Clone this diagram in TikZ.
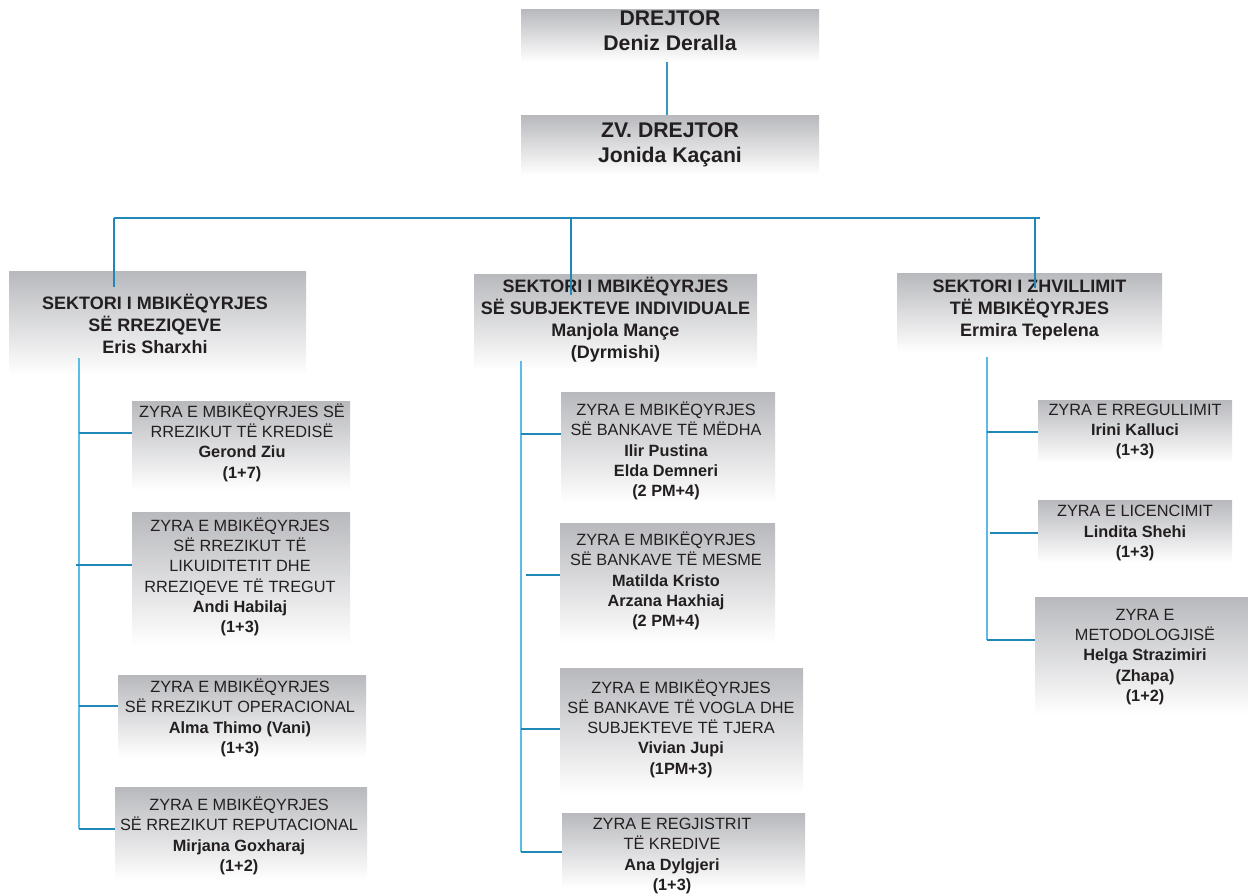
\documentclass[tikz,border=0pt]{standalone}
\usepackage{fontspec}
\setmainfont{Liberation Sans}
\usetikzlibrary{fit}
\definecolor{boxtop}{RGB}{184,185,189}
\definecolor{boxmid}{RGB}{210,211,214}
\definecolor{lnlight}{RGB}{92,188,230}
\definecolor{lndark}{RGB}{32,136,182}
\definecolor{txtc}{RGB}{35,31,32}
\tikzset{
  orgbox/.style={rectangle, inner sep=0pt, draw=none, top color=boxtop, middle color=boxmid, bottom color=white},
  toptxt/.style={font=\fontsize{21.2}{25}\selectfont\bfseries, align=center, text=txtc, inner sep=0pt},
  sectxt/.style={font=\fontsize{18}{22}\selectfont\bfseries, align=center, text=txtc, inner sep=0pt},
  subtxt/.style={font=\fontsize{16.3}{20.3}\selectfont, align=center, text=txtc, inner sep=0pt},
  spine/.style={draw=lnlight, line width=1.6pt},
  branch/.style={draw=lndark, line width=1.3pt},
}
\begin{document}
\begin{tikzpicture}[x=1pt,y=-1pt]
\useasboundingbox (0,0) rectangle (1248,895);
\fill[white] (0,0) rectangle (1248,895);
% boxes
\node[orgbox, fit={(521,9) (819,62)}] (dir) {};
\node[toptxt] (dirt) at (670,31) {DREJTOR\\Deniz Deralla};
\node[orgbox, fit={(521,115) (819,175)}] (zv) {};
\node[toptxt] (zvt) at (670,145) {ZV. DREJTOR\\Jonida Kaçani};
\node[orgbox, fit={(9,271) (306,375)}] (s1) {};
\node[sectxt] (s1t) at (155,323.5) {SEKTORI I MBIKËQYRJES\\SË RREZIQEVE\\Eris Sharxhi};
\node[orgbox, fit={(474,274) (757,370)}] (s2) {};
\node[sectxt] (s2t) at (615.5,320) {SEKTORI I MBIKËQYRJES\\SË SUBJEKTEVE INDIVIDUALE\\Manjola Mançe\\(Dyrmishi)};
\node[orgbox, fit={(897,273) (1162,352)}] (s3) {};
\node[sectxt] (s3t) at (1029.5,310) {SEKTORI I ZHVILLIMIT\\TË MBIKËQYRJES\\Ermira Tepelena};
% left column
\node[orgbox, fit={(132,401) (350,490)}] (b1) {};
\node[subtxt] (b1t) at (242,442.5) {ZYRA E MBIKËQYRJES SË\\RREZIKUT TË KREDISË\\\textbf{Gerond Ziu}\\\textbf{(1+7)}};
\node[orgbox, fit={(132,512) (350,645)}] (b2) {};
\node[subtxt] (b2t) at (240,577) {ZYRA E MBIKËQYRJES\\SË RREZIKUT TË\\LIKUIDITETIT DHE\\RREZIQEVE TË TREGUT\\\textbf{Andi Habilaj}\\\textbf{(1+3)}};
\node[orgbox, fit={(118,675) (366,757)}] (b3) {};
\node[subtxt] (b3t) at (240,718) {ZYRA E MBIKËQYRJES\\SË RREZIKUT OPERACIONAL\\\textbf{Alma Thimo (Vani)}\\\textbf{(1+3)}};
\node[orgbox, fit={(115,787) (367,880)}] (b4) {};
\node[subtxt] (b4t) at (239,836) {ZYRA E MBIKËQYRJES\\SË RREZIKUT REPUTACIONAL\\\textbf{Mirjana Goxharaj}\\\textbf{(1+2)}};
% middle column
\node[orgbox, fit={(561,392) (775,503)}] (m1) {};
\node[subtxt] (m1t) at (666,451) {ZYRA E MBIKËQYRJES\\SË BANKAVE TË MËDHA\\\textbf{Ilir Pustina}\\\textbf{Elda Demneri}\\\textbf{(2 PM+4)}};
\node[orgbox, fit={(560,523) (775,643)}] (m2) {};
\node[subtxt] (m2t) at (666,581) {ZYRA E MBIKËQYRJES\\SË BANKAVE TË MESME\\\textbf{Matilda Kristo}\\\textbf{Arzana Haxhiaj}\\\textbf{(2 PM+4)}};
\node[orgbox, fit={(560,668) (803,795)}] (m3) {};
\node[subtxt] (m3t) at (681,728.5) {ZYRA E MBIKËQYRJES\\SË BANKAVE TË VOGLA DHE\\SUBJEKTEVE TË TJERA\\\textbf{Vivian Jupi}\\\textbf{(1PM+3)}};
\node[orgbox, fit={(562,813) (805,888)}] (m4) {};
\node[subtxt] (m4t) at (672,856) {ZYRA E REGJISTRIT\\TË KREDIVE\\\textbf{Ana Dylgjeri}\\\textbf{(1+3)}};
% right column
\node[orgbox, fit={(1038,400) (1232,463)}] (r1) {};
\node[subtxt] (r1t) at (1135,431.5) {ZYRA E RREGULLIMIT\\\textbf{Irini Kalluci}\\\textbf{(1+3)}};
\node[orgbox, fit={(1038,500) (1232,563)}] (r2) {};
\node[subtxt] (r2t) at (1135,533) {ZYRA E LICENCIMIT\\\textbf{Lindita Shehi}\\\textbf{(1+3)}};
\node[orgbox, fit={(1035,597) (1248,715)}] (r3) {};
\node[subtxt] (r3t) at (1145,657) {ZYRA E\\METODOLOGJISË\\\textbf{Helga Strazimiri}\\\textbf{(Zhapa)}\\\textbf{(1+2)}};
% connectors
\coordinate (dirb) at (667,62);
\draw[spine, draw=lndark!70!lnlight] (dirb) -- (dirb |- zv.north);
\coordinate (hl) at (114,218);
\coordinate (hr) at (1040,218);
\coordinate (hm) at (571,218);
\coordinate (hrr) at (1035,218);
\coordinate (hle) at (114,287);
\coordinate (hme) at (571,295);
\coordinate (hre) at (1035,288);
\draw[branch] (hl) -- (hr);
\draw[branch] (hl) -- (hle);
\draw[branch] (hm) -- (hme);
\draw[branch] (hrr) -- (hre);
% spines
\coordinate (sp1) at (79,358);
\coordinate (sp2) at (521,361);
\coordinate (sp3) at (987,357);
\coordinate (j1) at (79,433);
\coordinate (j2) at (76,565);
\coordinate (j3) at (79,706);
\coordinate (j4) at (79,829);
\coordinate (k1) at (521,434);
\coordinate (k2) at (526,575);
\coordinate (k3) at (521,729);
\coordinate (k4) at (521,852);
\coordinate (l1) at (987,432);
\coordinate (l2) at (990,533);
\coordinate (l3) at (987,640);
\draw[spine] (sp1) -- (sp1 |- j4);
\draw[spine] (sp2) -- (sp2 |- k4);
\draw[spine] (sp3) -- (sp3 |- l3);
\draw[branch] (j1) -- (j1 -| b1.west);
\draw[branch] (j2) -- (j2 -| b2.west);
\draw[branch] (j3) -- (j3 -| b3.west);
\draw[branch] (j4) -- (j4 -| b4.west);
\draw[branch] (k1) -- (k1 -| m1.west);
\draw[branch] (k2) -- (k2 -| m2.west);
\draw[branch] (k3) -- (k3 -| m3.west);
\draw[branch] (k4) -- (k4 -| m4.west);
\draw[branch] (l1) -- (l1 -| r1.west);
\draw[branch] (l2) -- (l2 -| r2.west);
\draw[branch] (l3) -- (l3 -| r3.west);
\end{tikzpicture}
\end{document}
